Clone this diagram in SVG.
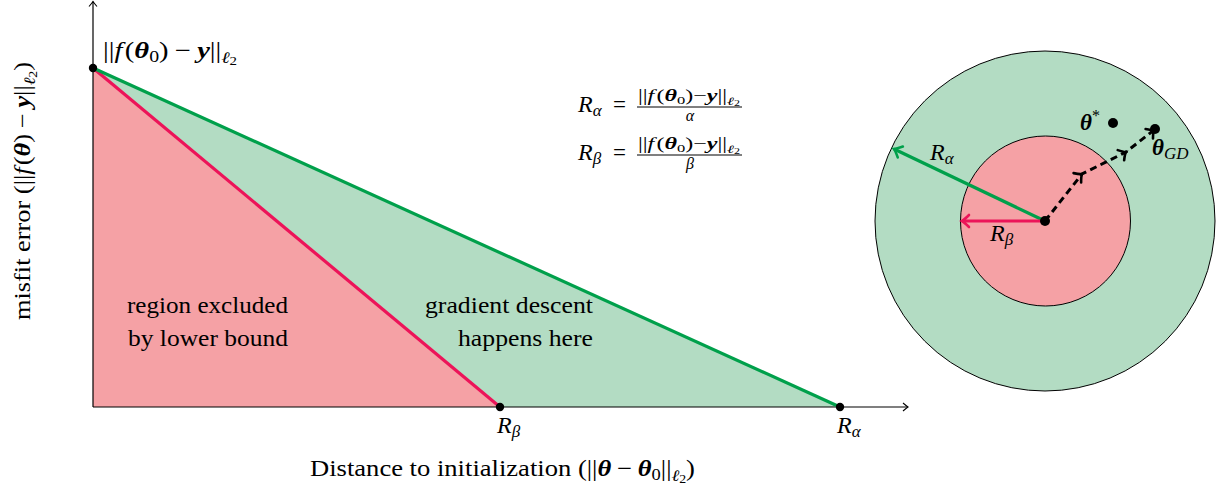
<svg xmlns="http://www.w3.org/2000/svg" width="1217" height="497" viewBox="0 0 1217 497">
<style>
.t{font-family:"Liberation Serif","DejaVu Serif",serif;fill:#000;font-size:23px}
.s{font-size:16px}
.r{font-size:24px}
.i{font-style:italic}
.b{font-style:italic;font-weight:bold}
.ax{stroke:#000;stroke-width:1.2;fill:none}
.pinkfill{fill:#f5a1a5}
.greenfill{fill:#b3dcc3}
.redline{stroke:#ec1459;stroke-width:3.2;fill:none}
.greenline{stroke:#00a04b;stroke-width:3.2;fill:none}
</style>
<defs>
<marker id="ax" markerUnits="userSpaceOnUse" viewBox="-10 -10 20 20" markerWidth="20" markerHeight="20" refX="0" refY="0" orient="auto" overflow="visible">
<path d="M -5 -4 Q -1.5 -1 0 0 Q -1.5 1 -5 4" fill="none" stroke="#000" stroke-width="1.1"/>
</marker>
<marker id="ag" markerUnits="userSpaceOnUse" viewBox="-10 -10 20 20" markerWidth="20" markerHeight="20" refX="0" refY="0" orient="auto" overflow="visible">
<path d="M -7 -6 Q -2 -1 0 0 Q -2 1 -7 6" fill="none" stroke="#00a04b" stroke-width="2.6" stroke-linecap="round"/>
</marker>
<marker id="ar" markerUnits="userSpaceOnUse" viewBox="-10 -10 20 20" markerWidth="20" markerHeight="20" refX="0" refY="0" orient="auto" overflow="visible">
<path d="M -7 -6 Q -2 -1 0 0 Q -2 1 -7 6" fill="none" stroke="#ec1459" stroke-width="2.6" stroke-linecap="round"/>
</marker>
<marker id="ak" markerUnits="userSpaceOnUse" viewBox="-10 -10 20 20" markerWidth="20" markerHeight="20" refX="0" refY="0" orient="auto" overflow="visible">
<path d="M -6 -6 Q -2 -1 0 0 Q -2 1 -6 6" fill="none" stroke="#000" stroke-width="2.6" stroke-linecap="round"/>
</marker>
</defs>

<g id="regions">
<polygon class="pinkfill" points="93,68 93,407 500,407"/>
<polygon class="greenfill" points="93,68 500,407 840,407"/>
</g>

<g id="axes">
<line class="ax" x1="93" y1="407" x2="93" y2="1.5" marker-end="url(#ax)"/>
<line class="ax" x1="93" y1="407" x2="908" y2="407" marker-end="url(#ax)"/>
</g>

<g id="connectors">
<line class="redline" x1="93" y1="68" x2="500" y2="407"/>
<line class="greenline" x1="93" y1="68" x2="840" y2="407"/>
</g>

<g id="node-start">
<circle cx="93" cy="68" r="4.2" fill="#000"/>
<text class="t" x="103" y="58" textLength="134" lengthAdjust="spacingAndGlyphs">||<tspan class="i">f</tspan><tspan dx="2">(</tspan><tspan class="b">θ</tspan><tspan font-size="16" dy="4">0</tspan><tspan dy="-4">)</tspan><tspan dx="5">−</tspan><tspan class="b" dx="5">y</tspan>||<tspan class="i" font-size="16" dy="5">ℓ</tspan><tspan font-size="12" dy="2">2</tspan></text>
</g>

<g id="node-rbeta">
<circle cx="500" cy="407" r="4.2" fill="#000"/>
<text class="t r" x="497" y="433"><tspan class="i">R</tspan><tspan class="i" font-size="17" dy="4">β</tspan></text>
</g>

<g id="node-ralpha">
<circle cx="840" cy="407" r="4.2" fill="#000"/>
<text class="t r" x="837" y="433"><tspan class="i">R</tspan><tspan class="i" font-size="17" dy="4">α</tspan></text>
</g>

<g id="labels">
<text class="t" x="207.5" y="313" text-anchor="middle" textLength="161" lengthAdjust="spacingAndGlyphs">region excluded</text>
<text class="t" x="208" y="346" text-anchor="middle" textLength="160" lengthAdjust="spacingAndGlyphs">by lower bound</text>
<text class="t" x="593" y="313" text-anchor="end" textLength="168" lengthAdjust="spacingAndGlyphs">gradient descent</text>
<text class="t" x="593" y="346" text-anchor="end" textLength="135" lengthAdjust="spacingAndGlyphs">happens here</text>
<text class="t" x="310" y="476" textLength="385" lengthAdjust="spacingAndGlyphs">Distance to initialization (||<tspan class="b">θ</tspan><tspan dx="5">−</tspan><tspan class="b" dx="5">θ</tspan><tspan font-size="16" dy="4">0</tspan><tspan dy="-4">||</tspan><tspan class="i" font-size="16" dy="5">ℓ</tspan><tspan font-size="12" dy="2">2</tspan><tspan dy="-7">)</tspan></text>
<text class="t" transform="translate(30,320) rotate(-90)" x="0" y="0" textLength="258" lengthAdjust="spacingAndGlyphs">misfit error (||<tspan class="i">f</tspan><tspan dx="2">(</tspan><tspan class="b">θ</tspan>)<tspan dx="5">−</tspan><tspan class="b" dx="5">y</tspan>||<tspan class="i" font-size="16" dy="5">ℓ</tspan><tspan font-size="12" dy="2">2</tspan><tspan dy="-7">)</tspan></text>
</g>

<g id="formulas">
<text class="t r" x="578" y="112"><tspan class="i">R</tspan><tspan class="i" font-size="17" dy="4">α</tspan></text>
<text class="t" x="613" y="112">=</text>
<line x1="637" y1="107" x2="742" y2="107" stroke="#000" stroke-width="1"/>
<text class="t s" x="689" y="101" text-anchor="middle" textLength="102" lengthAdjust="spacingAndGlyphs">||<tspan class="i">f</tspan><tspan dx="1.5">(</tspan><tspan class="b">θ</tspan><tspan font-size="11" dy="3">0</tspan><tspan dy="-3">)−</tspan><tspan class="b">y</tspan>||<tspan class="i" font-size="11" dy="4">ℓ</tspan><tspan font-size="8" dy="1">2</tspan></text>
<text class="t s i" x="690" y="121" text-anchor="middle">α</text>

<text class="t r" x="578" y="160"><tspan class="i">R</tspan><tspan class="i" font-size="17" dy="4">β</tspan></text>
<text class="t" x="613" y="160">=</text>
<line x1="637" y1="155" x2="742" y2="155" stroke="#000" stroke-width="1"/>
<text class="t s" x="689" y="149" text-anchor="middle" textLength="102" lengthAdjust="spacingAndGlyphs">||<tspan class="i">f</tspan><tspan dx="1.5">(</tspan><tspan class="b">θ</tspan><tspan font-size="11" dy="3">0</tspan><tspan dy="-3">)−</tspan><tspan class="b">y</tspan>||<tspan class="i" font-size="11" dy="4">ℓ</tspan><tspan font-size="8" dy="1">2</tspan></text>
<text class="t s i" x="690" y="169" text-anchor="middle">β</text>
</g>

<g id="ball-outer">
<circle cx="1045" cy="221" r="170" fill="#b3dcc3" stroke="#000" stroke-width="1"/>
</g>
<g id="ball-inner">
<circle cx="1045.5" cy="221" r="85" fill="#f5a1a5" stroke="#000" stroke-width="1"/>
</g>

<g id="ball-connectors">
<line class="greenline" x1="1045" y1="221" x2="894" y2="149" marker-end="url(#ag)"/>
<line class="redline" x1="1045" y1="221" x2="962" y2="221" marker-end="url(#ar)"/>
<polyline points="1045,221 1082,174 1126,152 1154,130" fill="none" stroke="#000" stroke-width="3" stroke-dasharray="7,4.5" marker-mid="url(#ak)" marker-end="url(#ak)"/>
</g>

<g id="node-center">
<circle cx="1045" cy="221" r="5" fill="#000"/>
</g>
<g id="node-theta-star">
<circle cx="1113" cy="123" r="5" fill="#000"/>
<text class="t" x="1080" y="130"><tspan class="b">θ</tspan><tspan font-size="16" dy="-9">*</tspan></text>
</g>
<g id="node-theta-gd">
<circle cx="1155" cy="129" r="5" fill="#000"/>
<text class="t" x="1152" y="155"><tspan class="b">θ</tspan><tspan class="i" font-size="17" dy="4">GD</tspan></text>
</g>
<g id="ball-labels">
<text class="t r" x="930" y="160"><tspan class="i">R</tspan><tspan class="i" font-size="17" dy="4">α</tspan></text>
<text class="t r" x="990" y="241"><tspan class="i">R</tspan><tspan class="i" font-size="17" dy="4">β</tspan></text>
</g>
</svg>
